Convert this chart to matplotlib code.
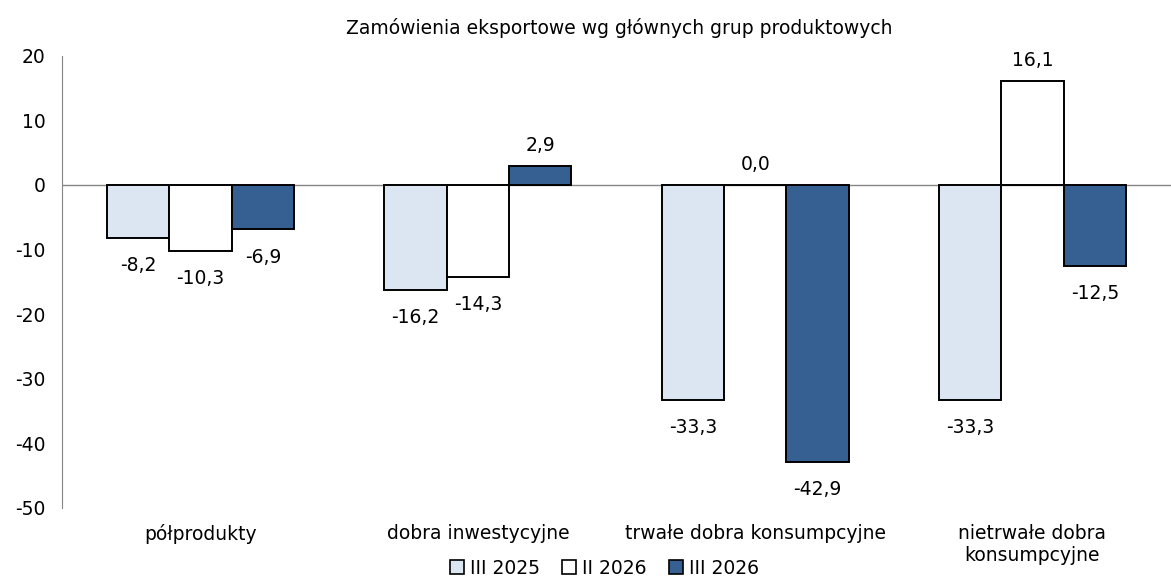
import matplotlib
matplotlib.use('Agg')
import numpy as np
import matplotlib.pyplot as plt
from matplotlib.patches import Patch

# ── Data ──────────────────────────────────────────────────────────────────────
categories = ["półprodukty", "dobra inwestycyjne", "trwałe dobra konsumpcyjne",
              "nietrwałe dobra\nkonsumpcyjne"]
series_names = ["III 2025", "II 2026", "III 2026"]
iii_2025 = [-8.2, -16.2, -33.3, -33.3]
ii_2026 = [-10.3, -14.3, 0.0, 16.1]
iii_2026 = [-6.9, 2.9, -42.9, -12.5]
yticks = [20, 10, 0, -10, -20, -30, -40, -50]

COLORS = ['#dce6f2', '#ffffff', '#376092']
AXIS_C = '#868686'
FS = 13.5

plt.rcParams['font.family'] = ['DejaVu Sans']

fig = plt.figure(figsize=(11.71, 5.81), dpi=100)
ax = fig.add_axes([0.053, 0.126, 0.947, 0.778])

x = np.arange(len(categories))
w = 0.225
for k, vals in enumerate([iii_2025, ii_2026, iii_2026]):
    pos = x + (k - 1) * w
    ax.bar(pos, vals, width=w, color=COLORS[k], edgecolor='black', linewidth=1.4,
           zorder=3)
    for p, v in zip(pos, vals):
        lab = f"{v:.1f}".replace('.', ',')
        if v < 0:
            ax.annotate(lab, (p, v), xytext=(0, -13), textcoords='offset points',
                        ha='center', va='top', fontsize=FS)
        else:
            ax.annotate(lab, (p, v), xytext=(0, 8), textcoords='offset points',
                        ha='center', va='bottom', fontsize=FS)

ax.axhline(0, color=AXIS_C, lw=1, zorder=2)
ax.set_xlim(-0.5, len(categories) - 0.5)
ax.set_ylim(-50, 20)
ax.set_yticks(yticks)
ax.set_yticklabels([str(t) for t in yticks], fontsize=FS)
ax.set_xticks(x)
ax.set_xticklabels(categories, fontsize=FS, linespacing=1.15)
ax.tick_params(axis='x', length=0, pad=12)
ax.tick_params(axis='y', length=0, pad=12)
for s in ['top', 'right', 'bottom']:
    ax.spines[s].set_visible(False)
ax.spines['left'].set_color(AXIS_C)

fig.text(0.529, 0.952, "Zamówienia eksportowe wg głównych grup produktowych",
         ha='center', va='center', fontsize=FS)

handles = [Patch(facecolor=c, edgecolor='black', linewidth=1.2) for c in COLORS]
fig.legend(handles, series_names, loc='center', bbox_to_anchor=(0.516, 0.022),
           ncol=3, frameon=False, fontsize=FS, handlelength=0.75, handleheight=0.75,
           handletextpad=0.3, columnspacing=1.2, borderpad=0)

fig.savefig('out.png', dpi=100)
